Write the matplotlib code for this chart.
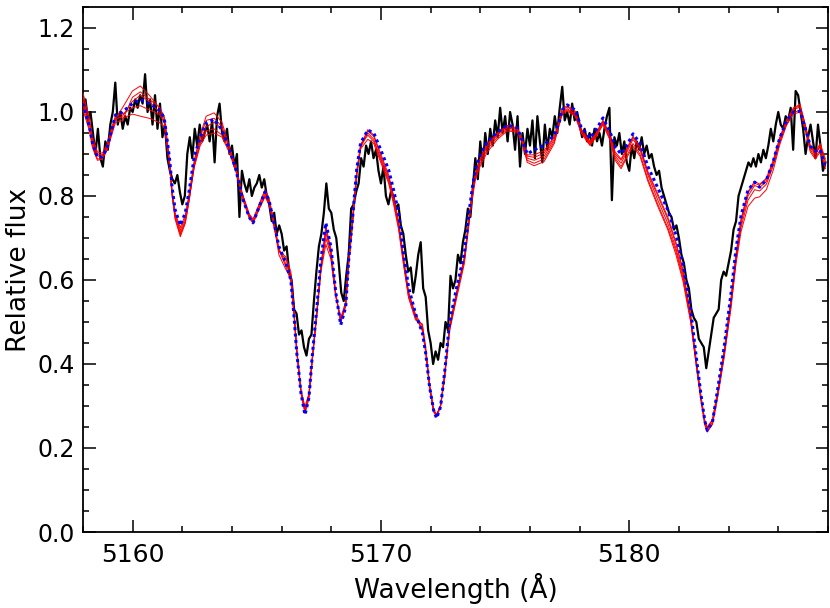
import numpy as np
import matplotlib
matplotlib.use("Agg")
import matplotlib.pyplot as plt
from matplotlib.ticker import MultipleLocator

# observed spectrum, 0.1 A sampling starting at 5158.0 (one row per Angstrom)
obs_start = 5158.0
obs_step = 0.1
flux_obs = [
    1.00, 1.03, 0.98, 1.00, 0.95, 0.90, 0.96, 0.89, 0.87, 0.93,
    0.91, 0.97, 1.00, 1.07, 0.97, 1.00, 0.96, 0.99, 0.97, 1.01,
    1.00, 1.03, 1.01, 1.04, 1.02, 1.09, 1.00, 1.03, 0.97, 1.04,
    0.96, 1.02, 0.94, 0.97, 0.89, 0.86, 0.84, 0.83, 0.85, 0.81,
    0.78, 0.80, 0.90, 0.94, 0.89, 0.96, 0.92, 0.97, 0.93, 0.95,
    0.97, 0.93, 0.98, 0.88, 0.99, 1.02, 0.95, 0.93, 0.96, 0.90,
    0.92, 0.87, 0.90, 0.75, 0.86, 0.83, 0.81, 0.84, 0.80, 0.82,
    0.83, 0.85, 0.82, 0.84, 0.80, 0.78, 0.74, 0.76, 0.71, 0.73,
    0.71, 0.67, 0.68, 0.62, 0.60, 0.53, 0.52, 0.47, 0.48, 0.44,
    0.42, 0.46, 0.47, 0.55, 0.62, 0.68, 0.71, 0.76, 0.83, 0.77,
    0.76, 0.72, 0.70, 0.64, 0.57, 0.55, 0.61, 0.66, 0.77, 0.78,
    0.81, 0.83, 0.89, 0.87, 0.92, 0.90, 0.93, 0.89, 0.91, 0.86,
    0.83, 0.87, 0.80, 0.78, 0.81, 0.80, 0.77, 0.78, 0.73, 0.71,
    0.66, 0.62, 0.63, 0.57, 0.61, 0.66, 0.69, 0.58, 0.56, 0.48,
    0.45, 0.40, 0.43, 0.41, 0.45, 0.44, 0.50, 0.48, 0.61, 0.58,
    0.60, 0.66, 0.64, 0.69, 0.72, 0.77, 0.75, 0.82, 0.89, 0.84,
    0.93, 0.87, 0.95, 0.90, 0.96, 0.92, 0.98, 0.94, 1.01, 0.95,
    0.99, 0.93, 1.00, 0.97, 0.91, 0.99, 0.87, 0.95, 0.90, 0.96,
    0.92, 0.98, 0.89, 0.99, 0.93, 0.88, 0.97, 0.91, 0.96, 0.94,
    0.99, 0.95, 1.01, 1.06, 0.98, 1.00, 0.97, 1.02, 0.98, 1.00,
    0.97, 0.94, 0.96, 0.93, 0.95, 0.92, 0.96, 0.93, 0.95, 0.92,
    0.96, 0.99, 1.01, 0.79, 0.94, 0.92, 0.95, 0.90, 0.93, 0.88,
    0.86, 0.92, 0.89, 0.93, 0.91, 0.94, 0.90, 0.92, 0.89, 0.90,
    0.87, 0.85, 0.86, 0.82, 0.80, 0.78, 0.76, 0.75, 0.72, 0.73,
    0.70, 0.66, 0.64, 0.60, 0.58, 0.53, 0.51, 0.50, 0.46, 0.45,
    0.44, 0.39, 0.43, 0.47, 0.51, 0.52, 0.53, 0.60, 0.62, 0.61,
    0.64, 0.67, 0.72, 0.74, 0.80, 0.82, 0.84, 0.86, 0.88, 0.87,
    0.89, 0.87, 0.90, 0.88, 0.91, 0.89, 0.92, 0.96, 0.93, 0.97,
    1.00, 0.97, 0.96, 0.99, 0.98, 1.01, 0.91, 1.05, 1.04, 1.00,
    0.96, 0.90, 0.94, 0.97, 0.93, 0.89, 0.97, 0.92, 0.86, 0.88,
]

# model wavelength grid
wave_mod = [
    5158.00, 5158.26, 5158.38, 5158.58, 5158.78, 5158.98, 5159.18, 5159.31, 5159.59, 5159.99,
    5160.31, 5160.67, 5161.07, 5161.27, 5161.39, 5161.49, 5161.59, 5161.71, 5161.92, 5162.12,
    5162.28, 5162.48, 5162.72, 5162.96, 5163.28, 5163.60, 5163.88, 5164.16, 5164.41, 5164.69,
    5164.85, 5165.09, 5165.33, 5165.49, 5165.69, 5165.89, 5166.17, 5166.37, 5166.49, 5166.61,
    5166.78, 5166.94, 5167.10, 5167.22, 5167.42, 5167.58, 5167.78, 5167.98, 5168.18, 5168.38,
    5168.58, 5168.70, 5168.86, 5169.02, 5169.18, 5169.47, 5169.71, 5169.99, 5170.31, 5170.51,
    5170.71, 5170.91, 5171.11, 5171.39, 5171.67, 5171.80, 5171.96, 5172.12, 5172.24, 5172.40,
    5172.56, 5172.76, 5173.04, 5173.36, 5173.56, 5173.68, 5173.80, 5174.00, 5174.29, 5174.69,
    5175.09, 5175.49, 5175.69, 5175.89, 5176.17, 5176.57, 5176.98, 5177.18, 5177.30, 5177.50,
    5177.82, 5178.06, 5178.42, 5178.66, 5178.94, 5179.23, 5179.43, 5179.67, 5179.87, 5180.15,
    5180.43, 5180.75, 5181.15, 5181.55, 5181.88, 5182.16, 5182.47, 5182.67, 5182.88, 5183.04,
    5183.14, 5183.35, 5183.55, 5183.82, 5184.10, 5184.30, 5184.50, 5184.78, 5185.05, 5185.25,
    5185.52, 5185.80, 5186.06, 5186.33, 5186.61, 5186.88, 5187.08, 5187.29, 5187.49, 5187.69,
    5187.90,
]

# best model (blue dotted)
flux_best = [
    1.020, 0.964, 0.926, 0.893, 0.893, 0.917, 0.964, 0.993, 1.000, 1.020,
    1.030, 1.020, 1.005, 0.986, 0.933, 0.886, 0.820, 0.767, 0.730, 0.760,
    0.814, 0.893, 0.940, 0.974, 0.983, 0.957, 0.914, 0.862, 0.798, 0.750,
    0.736, 0.774, 0.810, 0.790, 0.736, 0.680, 0.640, 0.600, 0.520, 0.426,
    0.330, 0.279, 0.320, 0.410, 0.536, 0.648, 0.736, 0.680, 0.570, 0.493,
    0.536, 0.648, 0.750, 0.862, 0.926, 0.957, 0.950, 0.910, 0.862, 0.814,
    0.760, 0.664, 0.583, 0.520, 0.474, 0.426, 0.345, 0.290, 0.271, 0.298,
    0.378, 0.498, 0.580, 0.664, 0.767, 0.820, 0.862, 0.898, 0.930, 0.952,
    0.969, 0.962, 0.933, 0.900, 0.910, 0.921, 0.945, 0.976, 1.005, 1.017,
    1.005, 0.964, 0.938, 0.957, 0.986, 0.952, 0.917, 0.900, 0.917, 0.948,
    0.926, 0.870, 0.819, 0.767, 0.707, 0.640, 0.530, 0.430, 0.330, 0.265,
    0.242, 0.262, 0.336, 0.440, 0.569, 0.674, 0.753, 0.814, 0.833, 0.821,
    0.838, 0.883, 0.938, 0.978, 1.000, 1.002, 0.963, 0.919, 0.907, 0.910,
    0.867,
]

# other models (thin red)
flux_m1 = [
    1.035, 0.975, 0.935, 0.900, 0.898, 0.915, 0.955, 0.985, 1.010, 1.050,
    1.062, 1.040, 1.010, 0.985, 0.925, 0.870, 0.800, 0.745, 0.703, 0.735,
    0.790, 0.880, 0.945, 0.990, 0.998, 0.975, 0.920, 0.860, 0.795, 0.748,
    0.735, 0.770, 0.800, 0.782, 0.730, 0.668, 0.650, 0.610, 0.528, 0.432,
    0.335, 0.292, 0.328, 0.405, 0.525, 0.630, 0.720, 0.670, 0.565, 0.500,
    0.540, 0.640, 0.740, 0.850, 0.915, 0.950, 0.935, 0.885, 0.835, 0.785,
    0.725, 0.640, 0.560, 0.510, 0.485, 0.430, 0.345, 0.288, 0.276, 0.300,
    0.370, 0.485, 0.565, 0.650, 0.750, 0.805, 0.848, 0.885, 0.918, 0.945,
    0.962, 0.958, 0.930, 0.890, 0.885, 0.895, 0.935, 0.975, 1.000, 1.008,
    0.995, 0.955, 0.925, 0.945, 0.975, 0.940, 0.895, 0.878, 0.900, 0.935,
    0.910, 0.850, 0.790, 0.735, 0.675, 0.612, 0.510, 0.415, 0.322, 0.262,
    0.245, 0.262, 0.325, 0.425, 0.550, 0.655, 0.735, 0.800, 0.825, 0.820,
    0.835, 0.878, 0.932, 0.975, 1.005, 1.012, 0.968, 0.915, 0.898, 0.918,
    0.880,
]
flux_m2 = [
    1.015, 0.960, 0.920, 0.888, 0.890, 0.912, 0.958, 0.982, 0.990, 1.025,
    1.040, 1.025, 1.000, 0.980, 0.928, 0.878, 0.810, 0.755, 0.718, 0.748,
    0.800, 0.875, 0.930, 0.965, 0.975, 0.960, 0.915, 0.865, 0.805, 0.755,
    0.742, 0.778, 0.812, 0.792, 0.738, 0.675, 0.638, 0.612, 0.530, 0.430,
    0.332, 0.285, 0.322, 0.402, 0.520, 0.625, 0.700, 0.660, 0.562, 0.505,
    0.545, 0.642, 0.745, 0.855, 0.922, 0.955, 0.942, 0.895, 0.845, 0.795,
    0.735, 0.648, 0.570, 0.515, 0.478, 0.428, 0.342, 0.286, 0.274, 0.298,
    0.368, 0.480, 0.560, 0.645, 0.745, 0.800, 0.842, 0.878, 0.912, 0.940,
    0.958, 0.955, 0.928, 0.885, 0.878, 0.888, 0.930, 0.972, 0.998, 1.005,
    0.992, 0.952, 0.922, 0.942, 0.972, 0.936, 0.890, 0.870, 0.892, 0.925,
    0.900, 0.840, 0.780, 0.725, 0.668, 0.605, 0.505, 0.410, 0.318, 0.258,
    0.240, 0.258, 0.320, 0.418, 0.540, 0.645, 0.725, 0.790, 0.815, 0.812,
    0.828, 0.872, 0.928, 0.970, 0.998, 1.005, 0.960, 0.910, 0.892, 0.910,
    0.870,
]
flux_m3 = [
    1.045, 0.985, 0.940, 0.905, 0.902, 0.925, 0.968, 0.990, 0.995, 1.010,
    1.015, 1.005, 0.995, 0.975, 0.920, 0.872, 0.805, 0.750, 0.712, 0.742,
    0.795, 0.870, 0.920, 0.945, 0.950, 0.940, 0.905, 0.858, 0.800, 0.752,
    0.738, 0.772, 0.805, 0.786, 0.732, 0.660, 0.625, 0.605, 0.525, 0.428,
    0.330, 0.282, 0.318, 0.400, 0.518, 0.620, 0.685, 0.650, 0.560, 0.510,
    0.548, 0.638, 0.735, 0.845, 0.912, 0.935, 0.925, 0.880, 0.830, 0.780,
    0.720, 0.635, 0.558, 0.505, 0.495, 0.440, 0.350, 0.292, 0.280, 0.302,
    0.372, 0.488, 0.568, 0.652, 0.752, 0.808, 0.850, 0.888, 0.922, 0.948,
    0.965, 0.960, 0.932, 0.895, 0.892, 0.902, 0.940, 0.978, 1.005, 1.012,
    1.000, 0.958, 0.928, 0.948, 0.978, 0.944, 0.900, 0.885, 0.905, 0.940,
    0.915, 0.855, 0.800, 0.745, 0.685, 0.620, 0.515, 0.420, 0.325, 0.264,
    0.248, 0.266, 0.330, 0.430, 0.555, 0.660, 0.742, 0.808, 0.830, 0.826,
    0.840, 0.882, 0.936, 0.978, 1.010, 1.018, 0.972, 0.920, 0.905, 0.925,
    0.888,
]
flux_m4 = [
    1.005, 0.955, 0.915, 0.885, 0.888, 0.910, 0.950, 0.975, 0.980, 1.035,
    1.048, 1.030, 1.012, 0.990, 0.935, 0.880, 0.812, 0.760, 0.725, 0.755,
    0.808, 0.885, 0.940, 0.980, 0.985, 0.965, 0.918, 0.868, 0.808, 0.758,
    0.745, 0.780, 0.815, 0.795, 0.740, 0.670, 0.655, 0.620, 0.535, 0.435,
    0.338, 0.298, 0.330, 0.408, 0.522, 0.628, 0.712, 0.665, 0.566, 0.498,
    0.538, 0.645, 0.748, 0.858, 0.920, 0.945, 0.930, 0.890, 0.840, 0.790,
    0.730, 0.645, 0.566, 0.512, 0.482, 0.432, 0.346, 0.289, 0.277, 0.300,
    0.365, 0.478, 0.555, 0.640, 0.740, 0.795, 0.838, 0.872, 0.905, 0.935,
    0.955, 0.952, 0.926, 0.880, 0.872, 0.882, 0.925, 0.970, 0.995, 1.002,
    0.990, 0.950, 0.920, 0.940, 0.970, 0.932, 0.885, 0.865, 0.888, 0.918,
    0.895, 0.835, 0.775, 0.720, 0.660, 0.598, 0.500, 0.408, 0.315, 0.255,
    0.238, 0.256, 0.318, 0.415, 0.535, 0.640, 0.715, 0.775, 0.795, 0.798,
    0.815, 0.862, 0.922, 0.968, 0.995, 1.000, 0.958, 0.905, 0.888, 0.905,
    0.865,
]
flux_m5 = [
    1.025, 0.970, 0.930, 0.895, 0.895, 0.920, 0.962, 0.990, 0.985, 0.995,
    0.990, 0.985, 0.975, 0.965, 0.915, 0.868, 0.800, 0.748, 0.708, 0.738,
    0.792, 0.868, 0.925, 0.955, 0.960, 0.945, 0.910, 0.862, 0.802, 0.750,
    0.736, 0.768, 0.798, 0.780, 0.728, 0.672, 0.632, 0.598, 0.522, 0.428,
    0.334, 0.288, 0.325, 0.404, 0.528, 0.635, 0.728, 0.675, 0.568, 0.502,
    0.542, 0.644, 0.742, 0.852, 0.918, 0.958, 0.945, 0.900, 0.850, 0.800,
    0.740, 0.652, 0.572, 0.518, 0.490, 0.435, 0.348, 0.290, 0.278, 0.301,
    0.374, 0.490, 0.570, 0.655, 0.755, 0.810, 0.852, 0.890, 0.925, 0.950,
    0.968, 0.962, 0.935, 0.898, 0.898, 0.908, 0.942, 0.980, 1.008, 1.015,
    1.002, 0.960, 0.930, 0.950, 0.980, 0.946, 0.905, 0.888, 0.910, 0.942,
    0.918, 0.858, 0.805, 0.750, 0.690, 0.625, 0.520, 0.422, 0.326, 0.266,
    0.250, 0.268, 0.332, 0.432, 0.558, 0.662, 0.745, 0.810, 0.835, 0.828,
    0.842, 0.885, 0.940, 0.980, 1.008, 1.015, 0.970, 0.918, 0.902, 0.920,
    0.882,
]
red_models = [flux_m1, flux_m2, flux_m3, flux_m4, flux_m5]

wave_obs = obs_start + obs_step * np.arange(len(flux_obs))

fig = plt.figure(figsize=(8.3, 6.08), dpi=100)
ax = fig.add_axes([0.1, 0.125, 0.8975, 0.8635])

ax.plot(wave_obs, flux_obs, color="black", lw=1.6, zorder=2)
for fm in red_models:
    ax.plot(wave_mod, fm, color="red", lw=0.7, zorder=3)
ax.plot(wave_mod, flux_best, color="blue", lw=2.2, linestyle=(0, (1, 1.1)), zorder=4)

ax.set_xlim(5158.0, 5188.0)
ax.set_ylim(0.0, 1.25)
ax.xaxis.set_major_locator(MultipleLocator(10))
ax.xaxis.set_minor_locator(MultipleLocator(2))
ax.yaxis.set_major_locator(MultipleLocator(0.2))
ax.yaxis.set_minor_locator(MultipleLocator(0.05))
ax.yaxis.set_major_formatter(matplotlib.ticker.FormatStrFormatter("%.1f"))

ax.tick_params(which="both", direction="in", top=True, right=True, width=1.1)
ax.tick_params(which="major", length=9)
ax.tick_params(which="minor", length=4.5)
ax.tick_params(axis="y", labelsize=17, pad=6)
ax.tick_params(axis="x", labelsize=18, pad=8)
for lab in ax.get_xticklabels():
    lab.set_family(["Liberation Sans Narrow", "DejaVu Sans"])
for sp in ax.spines.values():
    sp.set_linewidth(1.3)

ax.set_xlabel("Wavelength (Å)", fontsize=19, family=["Liberation Sans Narrow", "DejaVu Sans"])
ax.set_ylabel("Relative flux", fontsize=19)

fig.savefig("out.png", dpi=100)
